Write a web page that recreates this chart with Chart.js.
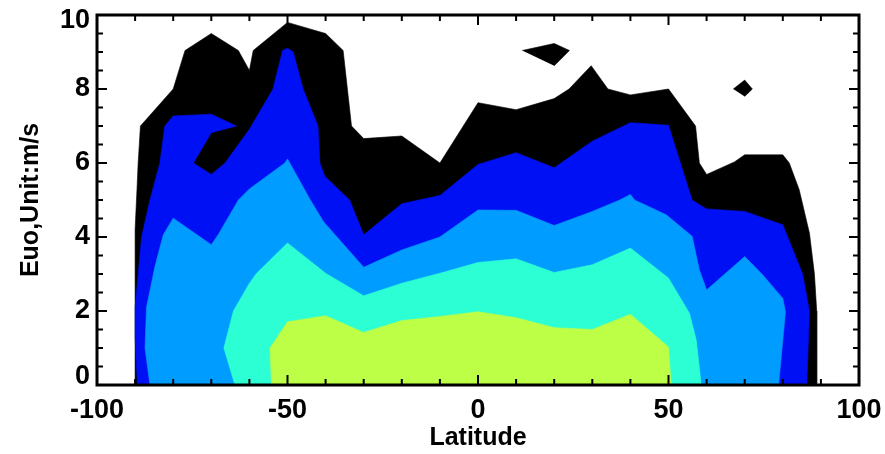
<!DOCTYPE html>
<html>
<head>
<meta charset="utf-8">
<script src="https://cdn.jsdelivr.net/npm/chart.js@4.4.1/dist/chart.umd.min.js"></script>
<style>
  html, body { margin: 0; padding: 0; background: #fff; }
</style>
</head>
<body>
<canvas id="euoChart" width="885" height="454"></canvas>
<script>
// contour bands of Euo (m/s) vs latitude, outermost first
const level1Lat = [-90, -90, -89.5, -89.2, -88.6, -80, -76.9, -70, -62.9, -60, -59, -50, -40, -35.4, -33.2, -30, -20, -10, 0, 10, 20, 23.9, 29.7, 34.1, 40, 50, 57.1, 58.1, 60, 67.3, 70, 80, 81.7, 84.3, 87, 88.3, 88.9, 88.9];
const level1Euo = [0, 4.2, 5.3, 6.0, 7.0, 8.0, 9.04, 9.5, 9.04, 8.5, 9.04, 9.8, 9.5, 9.04, 7.0, 6.66, 6.73, 6.0, 7.63, 7.44, 7.74, 8.0, 8.63, 8.0, 7.84, 8.0, 7.0, 6.0, 5.69, 6.03, 6.22, 6.22, 6.0, 5.28, 4.1, 3.0, 2.0, 0];

const island1Lat = [11.6, 20, 24, 20];
const island1Euo = [9.04, 9.23, 9.04, 8.63];
const island2Lat = [67, 70, 72, 70];
const island2Euo = [8.0, 8.24, 8.0, 7.8];

const level2Lat = [-89.4, -90, -90, -88.3, -86.1, -83.5, -82.2, -80, -70, -63.4, -70, -74.7, -70, -66.4, -60, -53.8, -51.3, -50, -48.5, -45.9, -42, -41.5, -40.2, -33.7, -30, -20, -10, 0, 10, 20, 30, 40, 50, 56.2, 60, 70, 80, 85.2, 87, 86.3];
const level2Euo = [0, 1.3, 2.1, 4.0, 5.0, 6.0, 7.0, 7.27, 7.32, 7.0, 6.82, 6.0, 5.69, 6.0, 6.91, 8.0, 9.04, 9.1, 9.0, 8.0, 7.0, 6.0, 5.64, 5.0, 4.06, 4.9, 5.12, 5.96, 6.28, 5.87, 6.59, 7.09, 7.02, 5.0, 4.76, 4.69, 4.33, 3.0, 2.0, 0];

const level3Lat = [-86.1, -87.4, -87, -84.8, -82.6, -80, -70, -68.2, -62.9, -60, -50.7, -50, -44, -40.6, -30, -20, -10, 0, 10, 20, 30, 37.2, 40, 41.1, 49.4, 56.2, 58.1, 60, 70, 74.7, 80, 80.7, 80, 78.9];
const level3Euo = [0, 1.0, 2.1, 3.2, 4.06, 4.51, 3.79, 4.06, 5.0, 5.3, 6.0, 6.11, 5.0, 4.42, 3.18, 3.65, 4.0, 4.73, 4.72, 4.31, 4.69, 5.0, 5.15, 5.0, 4.6, 4.02, 3.11, 2.57, 3.47, 2.98, 2.34, 1.98, 1.21, 0];

const level4Lat = [-63.8, -66.7, -64.2, -60, -58.1, -50, -40, -30, -20, -10, 0, 10, 20, 30, 40, 50, 55.5, 57.3, 58.6];
const level4Euo = [0, 1.0, 2.0, 2.75, 3.02, 3.84, 3.02, 2.41, 2.75, 3.02, 3.31, 3.41, 3.04, 3.25, 3.7, 2.89, 1.94, 1.21, 0];

const level5Lat = [-54.2, -54.6, -50, -40, -30, -20, -10, 0, 10, 20, 30, 40, 50, 50.7];
const level5Euo = [0, 1.0, 1.71, 1.87, 1.42, 1.74, 1.85, 1.98, 1.82, 1.55, 1.5, 1.91, 1.03, 0];

const xTickLabels = [-100, -50, 0, 50, 100];
const yTickLabels = [0, 2, 4, 6, 8, 10];

const FONT = 'Liberation Sans, Arial, Helvetica, sans-serif';

function toPoints(lat, euo) {
    return lat.map((v, i) => ({ x: v, y: euo[i] }));
}

function band(lat, euo, color, order) {
    return {
        data: toPoints(lat, euo),
        backgroundColor: color,
        borderColor: color,
        borderWidth: 0.6,
        pointRadius: 0,
        tension: 0,
        fill: 'shape',
        order: order
    };
}

// frame and inward ticks like the original plot
const frameTicks = {
    id: 'frameTicks',
    afterDatasetsDraw(chart) {
        const { ctx, chartArea: a, scales: { x, y } } = chart;
        ctx.save();
        ctx.strokeStyle = '#000';
        ctx.lineWidth = 2;
        ctx.beginPath();
        for (let v = -100; v <= 100; v += 10) {
            const px = x.getPixelForValue(v);
            const len = v % 50 === 0 ? 10 : 6;
            ctx.moveTo(px, a.bottom); ctx.lineTo(px, a.bottom - len);
            ctx.moveTo(px, a.top); ctx.lineTo(px, a.top + len);
        }
        for (let v = 0; v <= 10; v += 0.5) {
            const py = y.getPixelForValue(v);
            const len = v % 2 === 0 ? 10 : 6;
            ctx.moveTo(a.left, py); ctx.lineTo(a.left + len, py);
            ctx.moveTo(a.right, py); ctx.lineTo(a.right - len, py);
        }
        ctx.stroke();
        ctx.lineWidth = 3;
        ctx.strokeRect(a.left, a.top, a.right - a.left, a.bottom - a.top);
        ctx.restore();
    }
};

const ctx = document.getElementById('euoChart').getContext('2d');
new Chart(ctx, {
    type: 'line',
    data: {
        datasets: [
            band(level1Lat, level1Euo, '#000000', 6),
            band(island1Lat, island1Euo, '#000000', 6),
            band(island2Lat, island2Euo, '#000000', 6),
            band(level2Lat, level2Euo, '#0010f5', 5),
            band(level3Lat, level3Euo, '#009cff', 4),
            band(level4Lat, level4Euo, '#2cffd4', 3),
            band(level5Lat, level5Euo, '#bcff46', 2)
        ]
    },
    options: {
        responsive: false,
        animation: false,
        layout: { padding: { top: 15, right: 26, bottom: 0, left: 0 } },
        plugins: { legend: { display: false }, tooltip: { enabled: false } },
        scales: {
            x: {
                type: 'linear',
                min: -100,
                max: 100,
                afterBuildTicks: s => { s.ticks = xTickLabels.map(v => ({ value: v })); },
                afterFit: s => { s.height = 69; s.paddingLeft = 0; s.paddingRight = 0; },
                grid: { display: false, drawTicks: false },
                border: { display: false },
                ticks: {
                    color: '#000',
                    padding: 9,
                    maxRotation: 0,
                    autoSkip: false,
                    font: { family: FONT, weight: 'bold', size: 27 }
                },
                title: {
                    display: true,
                    text: 'Latitude',
                    color: '#000',
                    padding: { top: 0, bottom: 1 },
                    font: { family: FONT, weight: 'bold', size: 25 }
                }
            },
            y: {
                min: 0,
                max: 10,
                afterBuildTicks: s => { s.ticks = yTickLabels.map(v => ({ value: v })); },
                afterFit: s => { s.width = 97; s.paddingTop = 0; s.paddingBottom = 0; },
                grid: { display: false, drawTicks: false },
                border: { display: false },
                ticks: {
                    color: '#000',
                    padding: 7,
                    autoSkip: false,
                    // nudge the end labels inward as in the original
                    callback: v => v === 0 ? ['0', ''] : v === 10 ? ['', '10'] : String(v),
                    font: c => ({
                        family: FONT, weight: 'bold', size: 27,
                        lineHeight: c.tick && c.tick.value === 0 ? '16px' : c.tick && c.tick.value === 10 ? '12px' : 1.2
                    })
                },
                title: {
                    display: true,
                    text: 'Euo,Unit:m/s',
                    color: '#000',
                    padding: { top: 16, bottom: 0 },
                    font: { family: FONT, weight: 'bold', size: 25 }
                }
            }
        }
    },
    plugins: [frameTicks]
});
</script>
</body>
</html>
